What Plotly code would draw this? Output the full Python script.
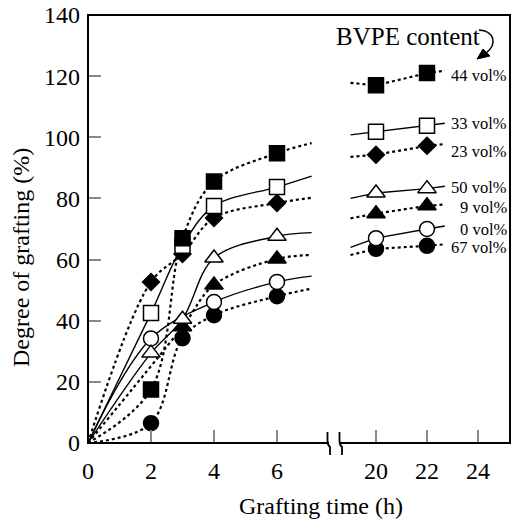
import plotly.graph_objects as go

# ---------------- data ----------------
left_x = [2, 3, 4, 6]          # grafting time (h), left segment
curve_end_x = 7.1               # where the drawn curves stop in the left segment
right_x = [20, 22]              # grafting time (h), right segment
right_line_x0 = 19.0            # where the right-segment lines start
right_line_x1 = 22.7            # where the right-segment lines end

series_names = ["44 vol%", "33 vol%", "23 vol%", "50 vol%", "9 vol%", "0 vol%", "67 vol%"]

left_vals = {
    "44 vol%": [17.5, 67.0, 85.5, 94.8],
    "33 vol%": [42.5, 64.5, 77.5, 83.7],
    "23 vol%": [52.7, 61.8, 73.6, 78.5],
    "50 vol%": [29.4, 40.5, 60.5, 67.6],
    "9 vol%":  [None, 38.0, 51.7, 60.2],
    "0 vol%":  [34.2, None, 46.1, 52.7],
    "67 vol%": [6.5, 34.3, 41.8, 48.0],
}
curve_end_vals = {
    "44 vol%": 98.1, "33 vol%": 87.3, "23 vol%": 80.2, "50 vol%": 68.8,
    "9 vol%": 61.5, "0 vol%": 54.6, "67 vol%": 50.5,
}
right_vals = {
    "44 vol%": [117.0, 121.0],
    "33 vol%": [101.8, 103.8],
    "23 vol%": [94.3, 97.2],
    "50 vol%": [81.8, 83.2],
    "9 vol%":  [75.0, 77.6],
    "0 vol%":  [67.0, 70.0],
    "67 vol%": [63.5, 64.5],
}
right_line_start = {
    "44 vol%": 117.8, "33 vol%": 100.8, "23 vol%": 93.6, "50 vol%": 80.0,
    "9 vol%": 73.5, "0 vol%": 64.0, "67 vol%": 61.5,
}
right_line_end = {
    "44 vol%": 121.8, "33 vol%": 104.6, "23 vol%": 97.8, "50 vol%": 84.0,
    "9 vol%": 78.0, "0 vol%": 71.0, "67 vol%": 65.0,
}

# ---------------- styles ----------------
style = {
    "44 vol%": dict(symbol="square", fill="black", dash="dot", size=15),
    "33 vol%": dict(symbol="square", fill="white", dash="solid", size=15),
    "23 vol%": dict(symbol="diamond", fill="black", dash="dot", size=13),
    "50 vol%": dict(symbol="triangle-up", fill="white", dash="solid", size=16),
    "9 vol%":  dict(symbol="triangle-up", fill="black", dash="dot", size=16),
    "0 vol%":  dict(symbol="circle", fill="white", dash="solid", size=15),
    "67 vol%": dict(symbol="circle", fill="black", dash="dot", size=15),
}
draw_order = ["67 vol%", "0 vol%", "9 vol%", "50 vol%", "23 vol%", "33 vol%", "44 vol%"]

FONT = "Liberation Serif"
W, H = 513, 519
ML, MR, MT, MB = 88, 3, 15, 76
PW, PH = W - ML - MR, H - MT - MB
BREAK_PX = 333


def px(x):
    return (x - ML) / PW


def py(y):
    return (H - MB - y) / PH


fig = go.Figure()

# curves first, then markers on top
for name in draw_order:
    st = style[name]
    lw = 2.2 if st["dash"] == "dot" else 1.4
    cx = [0] + [x for x, v in zip(left_x, left_vals[name]) if v is not None] + [curve_end_x]
    cy = [0] + [v for v in left_vals[name] if v is not None] + [curve_end_vals[name]]
    fig.add_trace(go.Scatter(x=cx, y=cy, mode="lines", xaxis="x", yaxis="y",
                             line=dict(color="black", width=lw, dash=st["dash"],
                                       shape="spline", smoothing=1.0),
                             hoverinfo="skip", showlegend=False))
    rx = [right_line_x0] + right_x + [right_line_x1]
    ry = [right_line_start[name]] + right_vals[name] + [right_line_end[name]]
    fig.add_trace(go.Scatter(x=rx, y=ry, mode="lines", xaxis="x2", yaxis="y",
                             line=dict(color="black", width=lw, dash=st["dash"]),
                             hoverinfo="skip", showlegend=False))

for name in draw_order:
    st = style[name]
    mk = dict(symbol=st["symbol"], size=st["size"], color=st["fill"],
              line=dict(color="black", width=1.5))
    fig.add_trace(go.Scatter(x=left_x, y=left_vals[name], mode="markers",
                             xaxis="x", yaxis="y", marker=mk, name=name,
                             showlegend=False))
    fig.add_trace(go.Scatter(x=right_x, y=right_vals[name], mode="markers",
                             xaxis="x2", yaxis="y", marker=mk, name=name,
                             showlegend=False))

d = px(BREAK_PX)
left_range_end = (BREAK_PX - ML) / 31.5
tick_common = dict(ticks="inside", ticklen=13, tickcolor="#8a8a8a", tickwidth=1.5,
                   showline=False, showgrid=False, zeroline=False,
                   tickfont=dict(family=FONT, size=24, color="black"))

fig.update_layout(
    width=W, height=H,
    margin=dict(l=ML, r=MR, t=MT, b=MB),
    paper_bgcolor="white", plot_bgcolor="white",
    showlegend=False,
    xaxis=dict(domain=[0, d], range=[0, left_range_end], tickvals=[0, 2, 4, 6],
               anchor="y", ticklabelstandoff=11, **tick_common),
    xaxis2=dict(domain=[d, 1], range=[20 - (376 - BREAK_PX) / 25.5, 24 + (510 - 478) / 25.5],
                tickvals=[20, 22, 24], anchor="y", ticklabelstandoff=11, **tick_common),
    yaxis=dict(range=[0, 140], tickvals=[0, 20, 40, 60, 80, 100, 120, 140],
               anchor="x", ticklabelstandoff=7, **tick_common),
)

shapes = []
# frame
shapes.append(dict(type="rect", xref="paper", yref="paper", x0=0, y0=0, x1=1, y1=1,
                   line=dict(color="black", width=2), layer="above"))
# axis break on the bottom axis
shapes.append(dict(type="rect", xref="paper", yref="paper",
                   x0=px(329), x1=px(339), y0=py(446), y1=py(440),
                   fillcolor="white", line=dict(width=0), layer="above"))
for bx in (327.5, 339.5):
    path = (f"M {px(bx)},{py(432)} L {px(bx)},{py(441)} "
            f"Q {px(bx)},{py(445)} {px(bx + 2.5)},{py(447)} L {px(bx + 2.5)},{py(455)}")
    shapes.append(dict(type="path", xref="paper", yref="paper", path=path,
                       line=dict(color="black", width=1.8), layer="above"))
# curved arrow after "BVPE content"
arrow = (f"M {px(479)},{py(30)} C {px(494)},{py(31)} {px(498)},{py(44)} {px(486)},{py(53)}")
shapes.append(dict(type="path", xref="paper", yref="paper", path=arrow,
                   line=dict(color="black", width=1.5), layer="above"))
head = (f"M {px(477)},{py(59)} L {px(483)},{py(49)} L {px(490)},{py(56)} Z")
shapes.append(dict(type="path", xref="paper", yref="paper", path=head,
                   fillcolor="black", line=dict(color="black", width=1), layer="above"))
fig.update_layout(shapes=shapes)

ann = []
label_y = {
    "44 vol%": 75, "33 vol%": 123, "23 vol%": 151, "50 vol%": 188,
    "9 vol%": 207, "0 vol%": 230, "67 vol%": 247,
}
for name in series_names:
    ann.append(dict(text=name, xref="paper", yref="paper", x=px(509), y=py(label_y[name]),
                    xanchor="right", yanchor="middle", showarrow=False,
                    font=dict(family=FONT, size=16.5, color="black")))
ann.append(dict(text="BVPE content", xref="paper", yref="paper", x=px(334), y=py(36),
                xanchor="left", yanchor="middle", showarrow=False,
                font=dict(family=FONT, size=25, color="black")))
ann.append(dict(text="Grafting time (h)", xref="paper", yref="paper", x=px(321), y=py(506),
                xanchor="center", yanchor="middle", showarrow=False,
                font=dict(family=FONT, size=24, color="black")))
ann.append(dict(text="Degree of grafting (%)", xref="paper", yref="paper", x=px(21), y=py(258),
                xanchor="center", yanchor="middle", showarrow=False, textangle=-90,
                font=dict(family=FONT, size=24, color="black")))
fig.update_layout(annotations=ann)

fig.write_html("out.html")
